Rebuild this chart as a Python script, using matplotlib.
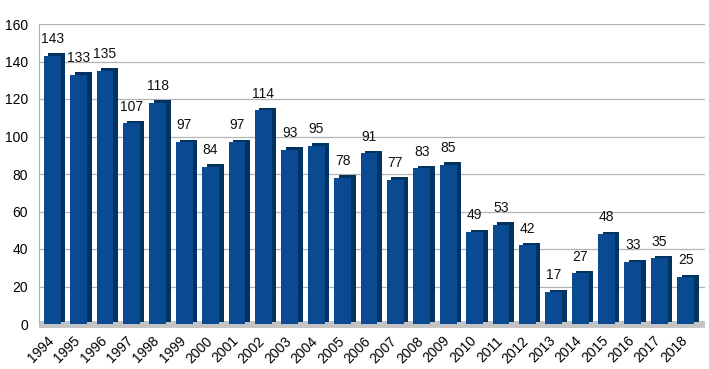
import matplotlib.pyplot as plt
import matplotlib.transforms as mtransforms
from matplotlib.patches import Rectangle

years = [str(y) for y in range(1994, 2019)]
values = [143, 133, 135, 107, 118, 97, 84, 97, 114, 93, 95, 78, 91,
          77, 83, 85, 49, 53, 42, 17, 27, 48, 33, 35, 25]
yticks = [0, 20, 40, 60, 80, 100, 120, 140, 160]

plt.rcParams['font.family'] = ['Liberation Sans', 'DejaVu Sans']

fig = plt.figure(figsize=(7.09, 3.69), dpi=100)
ax = fig.add_axes([39 / 709, 45 / 369, 666 / 709, 300 / 369])

x = list(range(len(values)))

# gray floor under the bars
ax.add_patch(Rectangle((0, -0.012), 1.0, 0.022, transform=ax.transAxes,
                       facecolor='#c4c4c4', edgecolor='none', zorder=1,
                       clip_on=False))

# darker "depth" copy of the bars, shifted right and up
shift = mtransforms.offset_copy(ax.transData, fig=fig, x=4.5, y=2.5, units='dots')
ax.bar(x, values, width=0.64, color='#00335f', transform=shift, zorder=2)
ax.bar(x, values, width=0.64, color='#0a4a92', zorder=3)

for xi, v in zip(x, values):
    ax.annotate(str(v), (xi, v), xytext=(0, 7), textcoords='offset points',
                ha='center', va='bottom', fontsize=10, color='#111111')

ax.set_xlim(-0.5, 24.73)
ax.set_ylim(0, 160)
ax.set_yticks(yticks)
ax.set_xticks(x)
ax.set_xticklabels(years, rotation=45, ha='right', rotation_mode='anchor',
                   fontsize=10)
ax.tick_params(axis='both', length=0, labelsize=10)
ax.tick_params(axis='y', pad=8)
ax.tick_params(axis='x', pad=7)

# nudge the year labels a little to the left
nudge = mtransforms.ScaledTranslation(-4 / 72, 0, fig.dpi_scale_trans)
for lbl in ax.get_xticklabels():
    lbl.set_transform(lbl.get_transform() + nudge)

ax.grid(axis='y', color='#b3b3b3', linewidth=0.9)
ax.set_axisbelow(True)
for side in ['top', 'right', 'bottom']:
    ax.spines[side].set_visible(False)
ax.spines['left'].set_color('#b3b3b3')

fig.savefig('out.png', dpi=100)
